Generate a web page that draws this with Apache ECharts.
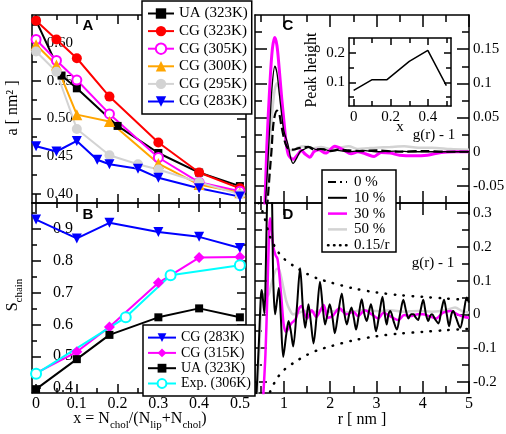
<!DOCTYPE html>
<html><head><meta charset="utf-8">
<script src="https://cdn.jsdelivr.net/npm/echarts@6/dist/echarts.min.js"></script>
<style>html,body{margin:0;padding:0;background:#fff}#c{width:506px;height:434px}</style>
</head><body><div id="c"></div>
<script>
// ---------- Panel A data ----------
const aUA_x = [0, 0.0625, 0.1, 0.2, 0.3, 0.4, 0.5];
const aUA = [0.630, 0.557, 0.540, 0.490, 0.454, 0.428, 0.410];
const aCG_x = [0, 0.05, 0.1, 0.18, 0.3, 0.4, 0.5];
const aCG323 = [0.630, 0.605, 0.580, 0.529, 0.468, 0.428, 0.407];
const aCG305 = [0.605, 0.577, 0.551, 0.506, 0.448, 0.415, 0.403];
const aCG300 = [0.598, 0.571, 0.505, 0.496, 0.440, 0.412, 0.401];
const aCG295_x = [0, 0.05, 0.1, 0.18, 0.25, 0.3, 0.4, 0.5];
const aCG295 = [0.589, 0.562, 0.486, 0.451, 0.439, 0.432, 0.415, 0.399];
const aCG283_x = [0, 0.05, 0.1, 0.15, 0.18, 0.25, 0.3, 0.4, 0.5];
const aCG283 = [0.463, 0.456, 0.470, 0.445, 0.439, 0.433, 0.421, 0.407, 0.396];
// ---------- Panel B data ----------
const bX = [0, 0.1, 0.18, 0.3, 0.4, 0.5];
const bCG283 = [0.928, 0.869, 0.918, 0.889, 0.874, 0.839];
const bCG315 = [0.447, 0.514, 0.592, 0.730, 0.809, 0.811];
const bUA = [0.397, 0.491, 0.567, 0.622, 0.650, 0.622];
const bExp_x = [0, 0.22, 0.33, 0.5];
const bExp = [0.445, 0.622, 0.754, 0.785];
// ---------- Panel C data (g(r)-1) ----------
const c0_r = [0.55,0.6,0.65,0.7,0.73,0.78,0.85,0.9,0.94,1.0,1.05,1.12,1.2,1.3,1.4,1.53,1.65,1.8,2.0,2.2,2.4,2.7,3.0,3.5,4.0,4.5,5.0];
const c0_v = [-0.14,-0.11,-0.07,-0.025,0.0,0.045,0.06,0.055,0.04,0.02,0.009,0.003,0.003,0.005,0.006,0.007,0.003,0.004,0.001,0.003,0.002,0.001,0.002,0.0,0.001,0.0,0.0];
const c10_r = [0.55,0.6,0.65,0.7,0.75,0.805,0.85,0.9,0.95,1.0,1.09,1.15,1.2,1.27,1.35,1.45,1.56,1.7,1.85,2.0,2.15,2.4,2.7,3.0,3.4,3.8,4.3,5.0];
const c10_v = [-0.12,-0.075,-0.02,0.045,0.1,0.125,0.115,0.085,0.055,0.03,0.01,-0.01,-0.017,-0.01,0.0,0.004,0.007,0.003,0.004,0.001,0.002,0.0,0.002,0.0,0.001,0.0,0.0,0.0];
const c30_r = [0.55,0.59,0.63,0.7,0.75,0.8,0.85,0.9,0.95,1.0,1.05,1.1,1.2,1.3,1.38,1.45,1.56,1.65,1.75,1.9,2.1,2.3,2.45,2.6,2.8,2.95,3.1,3.3,3.5,3.8,4.1,4.4,4.7,5.0];
const c30_v = [-0.13,-0.076,0.007,0.103,0.15,0.167,0.155,0.12,0.08,0.045,0.012,-0.005,-0.011,-0.004,0.002,-0.003,-0.008,0.0,0.003,-0.002,0.008,0.002,-0.003,0.0,-0.004,-0.007,-0.001,-0.002,-0.005,-0.006,-0.005,-0.001,0.0,0.0];
const c50_r = [0.57,0.62,0.68,0.75,0.8,0.85,0.9,0.95,1.0,1.05,1.1,1.2,1.3,1.45,1.6,1.8,2.0,2.2,2.4,2.6,2.8,3.0,3.3,3.6,3.9,4.2,4.6,5.0];
const c50_v = [-0.12,-0.075,0.0,0.06,0.09,0.1,0.09,0.065,0.035,0.012,0.003,0.002,0.006,0.008,0.005,0.007,0.004,0.006,0.008,0.004,0.005,0.006,0.007,0.008,0.006,0.006,0.004,0.003];
// ---------- Panel D data (g(r)-1) ----------
const d10_r = [0.40,0.46,0.5,0.52,0.55,0.58,0.61,0.64,0.69,0.74,0.77,0.81,0.85,0.89,0.93,0.985,1.05,1.1,1.15,1.2,1.28,1.35,1.41,1.46,1.53,1.58,1.64,1.71,1.78,1.84,1.89,1.94,1.99,2.05,2.1,2.17,2.25,2.31,2.36,2.41,2.46,2.51,2.56,2.62,2.68,2.74,2.79,2.84,2.88,2.94,2.99,3.06,3.13,3.18,3.22,3.26,3.3,3.37,3.44,3.51,3.58,3.64,3.69,3.75,3.8,3.85,3.9,3.95,4.01,4.07,4.12,4.16,4.2,4.27,4.34,4.4,4.46,4.52,4.57,4.62,4.66,4.72,4.81,4.88,4.95,5.0];
const d10_v = [-0.26,-0.08,0.05,0.072,0.04,0.002,0.15,0.36,0.55,0.36,0.1,0.0,0.04,0.078,0.0,-0.126,-0.06,-0.02,-0.05,-0.095,0.02,0.137,0.02,-0.04,0.03,-0.02,-0.086,0.0,0.097,0.02,-0.03,0.0,0.03,-0.01,-0.056,0.0,0.062,0.0,-0.03,0.0,0.02,-0.01,-0.045,0.0,0.045,0.0,-0.02,0.01,0.03,-0.01,-0.05,0.0,0.052,0.0,-0.03,0.0,0.01,-0.02,-0.045,0.0,0.043,0.01,-0.012,0.0,0.0,-0.01,-0.017,0.01,0.043,0.0,-0.02,-0.005,0.0,-0.015,-0.027,0.01,0.043,0.0,-0.035,0.0,0.01,-0.01,-0.04,0.0,0.05,0.035];
const d30_r = [0.55,0.6,0.64,0.67,0.70,0.73,0.77,0.82,0.86,0.9,0.95,1.0,1.05,1.1,1.17,1.25,1.32,1.38,1.45,1.5,1.6,1.7,1.8,1.86,1.95,2.05,2.2,2.35,2.5,2.6,2.75,2.9,3.04,3.15,3.29,3.47,3.6,3.73,3.9,4.0,4.15,4.29,4.44,4.6,4.75,4.9,5.0];
const d30_v = [-0.25,-0.12,0.05,0.2,0.285,0.26,0.2,0.175,0.165,0.12,0.04,-0.035,-0.052,-0.04,-0.025,-0.015,0.015,0.025,0.0,-0.012,0.012,-0.008,0.015,0.028,-0.01,-0.005,0.018,0.0,0.008,-0.005,0.012,0.0,-0.012,0.005,-0.005,-0.017,-0.002,-0.005,0.0,0.0,-0.006,-0.012,0.005,0.01,0.0,-0.008,-0.01];
const d50_r = [0.42,0.47,0.52,0.58,0.65,0.72,0.78,0.85,0.9,0.98,1.05,1.12,1.2,1.3,1.45,1.6,1.8,2.0,2.2,2.4,2.7,3.0,3.3,3.6,3.9,4.2,4.5,4.7,4.85,5.0];
const d50_v = [-0.24,-0.1,0.04,0.06,0.055,0.085,0.115,0.135,0.132,0.085,0.04,0.015,0.0,0.004,0.01,0.006,0.012,0.008,0.012,0.006,0.012,0.01,0.012,0.008,0.01,0.008,0.012,0.02,0.01,0.005];
const env_r = [0.45,0.55,0.7,0.85,1.0,1.25,1.5,1.75,2.0,2.5,3.0,3.5,4.0,4.5,5.0];
const envUp = [0.33,0.30,0.23,0.19,0.165,0.14,0.12,0.105,0.095,0.077,0.065,0.057,0.052,0.047,0.043];
const envDn = [-0.33,-0.30,-0.23,-0.19,-0.165,-0.14,-0.12,-0.105,-0.095,-0.077,-0.065,-0.057,-0.052,-0.047,-0.043];
// ---------- Inset data ----------
const insX = [0, 0.1, 0.18, 0.3, 0.4, 0.5];
const insPeak = [0.073, 0.109, 0.109, 0.171, 0.208, 0.089];
// ---------- Ticks ----------
const abXMajor = [0,0.1,0.2,0.3,0.4,0.5], abXMinor = [0.05,0.15,0.25,0.35,0.45];
const abXLabels = ['0','0.1','0.2','0.3','0.4','0.5'];
const aYMajor = [0.40,0.45,0.50,0.55,0.60], aYMinor = [0.425,0.475,0.525,0.575,0.625];
const aYLabels = ['0.40','0.45','0.50','0.55','0.60'];
const bYMajor = [0.4,0.5,0.6,0.7,0.8,0.9], bYMinor = [0.45,0.55,0.65,0.75,0.85,0.95];
const bYLabels = ['0.4','0.5','0.6','0.7','0.8','0.9'];
const cdXMajor = [1,2,3,4,5], cdXMinor = [0.5,1.5,2.5,3.5,4.5];
const cdXLabels = ['1','2','3','4','5'];
const cYMajor = [-0.05,0,0.05,0.1,0.15], cYMinor = [-0.025,0.025,0.075,0.125,0.175];
const cYLabels = ['-0.05','0','0.05','0.1','0.15'];
const dYMajor = [-0.2,-0.1,0,0.1,0.2,0.3], dYMinor = [-0.15,-0.05,0.05,0.15,0.25];
const dYLabels = ['-0.2','-0.1','0','0.1','0.2','0.3'];
const iXMajor = [0,0.2,0.4], iXMinor = [0.1,0.3,0.5], iXLabels = ['0','0.2','0.4'];
const iYMajor = [0.1,0.2], iYMinor = [0.05,0.15], iYLabels = ['0.1','0.2'];

const F = 'Liberation Serif';
const xAxes = [], yAxes = [];
function addAxis(dim, gi, pos, min, max, major, minor, lab, tl) {
  const base = {type:'value', gridIndex:gi, position:pos, min:min, max:max, splitLine:{show:false}, silent:true};
  const mj = Object.assign({}, base, {
    axisLine:{show:true, onZero:false, lineStyle:{color:'#000', width:1.5}},
    axisTick:{show:true, inside:true, length:tl[0], customValues:major, lineStyle:{color:'#000', width:1.5}},
    axisLabel: lab ? {show:true, customValues:major, inside:!!lab.inside, margin:lab.margin, align:lab.align,
      color:'#000', fontFamily:F, fontSize:lab.size || 15,
      formatter: function(v){ const i = major.findIndex(m => Math.abs(m - v) < 1e-9); return i < 0 ? '' : lab.labels[i]; }} : {show:false}
  });
  const mn = Object.assign({}, base, {
    axisLine:{show:false, onZero:false},
    axisTick:{show:true, inside:true, length:tl[1], customValues:minor, lineStyle:{color:'#000', width:1.5}},
    axisLabel:{show:false}
  });
  const arr = dim === 'x' ? xAxes : yAxes;
  arr.push(mj); const idx = arr.length - 1; arr.push(mn);
  return idx;
}
const grids = [
  {left:32, top:15, width:214, height:188},
  {left:32, top:203, width:214, height:190},
  {left:255, top:15, width:214, height:188},
  {left:255, top:203, width:214, height:190},
  {left:349, top:38, width:102, height:68, show:true, backgroundColor:'#fff', borderWidth:0}
];
grids.forEach(g => { g.containLabel = false; g.outerBoundsMode = 'none'; });
const ABX = [-0.01, 0.515], AY = [0.3875, 0.6375], BY = [0.385, 0.98];
const CDX = [0.375, 5], CY = [-0.075, 0.2], DY = [-0.233, 0.33], IX = [-0.025, 0.525], IY = [0.02, 0.25];
const TAB = [9, 5], TCD = [12, 7], TIN = [7, 5];
// A
const axA = addAxis('x',0,'bottom',ABX[0],ABX[1],abXMajor,abXMinor,null,TAB);
addAxis('x',0,'top',ABX[0],ABX[1],abXMajor,abXMinor,null,TAB);
const ayA = addAxis('y',0,'left',AY[0],AY[1],aYMajor,aYMinor,{labels:aYLabels, inside:true, margin:41, align:'right', size:15},TAB);
addAxis('y',0,'right',AY[0],AY[1],aYMajor,aYMinor,null,TAB);
// B
const axB = addAxis('x',1,'bottom',ABX[0],ABX[1],abXMajor,abXMinor,{labels:abXLabels, margin:3, size:16},TAB);
addAxis('x',1,'top',ABX[0],ABX[1],abXMajor,abXMinor,null,TAB);
const ayB = addAxis('y',1,'left',BY[0],BY[1],bYMajor,bYMinor,{labels:bYLabels, inside:true, margin:41, align:'right', size:16},TAB);
addAxis('y',1,'right',BY[0],BY[1],bYMajor,bYMinor,null,TAB);
// C
const axC = addAxis('x',2,'bottom',CDX[0],CDX[1],cdXMajor,cdXMinor,null,TCD);
addAxis('x',2,'top',CDX[0],CDX[1],cdXMajor,cdXMinor,null,TCD);
const ayC = addAxis('y',2,'left',CY[0],CY[1],cYMajor,cYMinor,null,TCD);
addAxis('y',2,'right',CY[0],CY[1],cYMajor,cYMinor,{labels:cYLabels, margin:4, size:15},TCD);
// D
const axD = addAxis('x',3,'bottom',CDX[0],CDX[1],cdXMajor,cdXMinor,{labels:cdXLabels, margin:3, size:16},TCD);
addAxis('x',3,'top',CDX[0],CDX[1],cdXMajor,cdXMinor,null,TCD);
const ayD = addAxis('y',3,'left',DY[0],DY[1],dYMajor,dYMinor,null,TCD);
addAxis('y',3,'right',DY[0],DY[1],dYMajor,dYMinor,{labels:dYLabels, margin:4, size:15},TCD);
// Inset
const axI = addAxis('x',4,'bottom',IX[0],IX[1],iXMajor,iXMinor,{labels:iXLabels, margin:4, size:15},TIN);
addAxis('x',4,'top',IX[0],IX[1],iXMajor,iXMinor,null,TIN);
const ayI = addAxis('y',4,'left',IY[0],IY[1],iYMajor,iYMinor,{labels:iYLabels, margin:4, size:15},TIN);
addAxis('y',4,'right',IY[0],IY[1],iYMajor,iYMinor,null,TIN);

function pts(xs, ys){ return xs.map((x,i) => [x, ys[i]]); }
function mk(name, xs, ys, xi, yi, color, symbol, size, extra) {
  const s = {type:'line', name:name, xAxisIndex:xi, yAxisIndex:yi, data:pts(xs,ys), animation:false,
    lineStyle:{color:color, width:2}, itemStyle:{color:color}, symbol:symbol, symbolSize:size, showSymbol:true};
  return Object.assign(s, extra || {});
}
const RED='#ff0000', MAG='#ff00ff', ORA='#ffa500', GRY='#d3d3d3', BLU='#0000ff', CYA='#00ffff';
const series = [
  mk('UA (323K)', aUA_x, aUA, axA, ayA, '#000', 'rect', 8),
  mk('CG (323K)', aCG_x, aCG323, axA, ayA, RED, 'circle', 10),
  mk('CG (305K)', aCG_x, aCG305, axA, ayA, MAG, 'emptyCircle', 9, {itemStyle:{color:MAG, borderWidth:2}}),
  mk('CG (300K)', aCG_x, aCG300, axA, ayA, ORA, 'triangle', 11),
  mk('CG (295K)', aCG295_x, aCG295, axA, ayA, GRY, 'circle', 10),
  mk('CG (283K)', aCG283_x, aCG283, axA, ayA, BLU, 'triangle', 10, {symbolRotate:180}),
  mk('CG (283K)', bX, bCG283, axB, ayB, BLU, 'triangle', 10, {symbolRotate:180}),
  mk('CG (315K)', bX, bCG315, axB, ayB, MAG, 'diamond', 11),
  mk('UA (323K)', bX, bUA, axB, ayB, '#000', 'rect', 8),
  mk('Exp. (306K)', bExp_x, bExp, axB, ayB, CYA, 'emptyCircle', 10, {itemStyle:{color:CYA, borderWidth:1.5}}),
  // C
  mk('C 50 %', c50_r, c50_v, axC, ayC, GRY, 'none', 0, {smooth:0.3, lineStyle:{color:GRY, width:2.5}}),
  mk('C 30 %', c30_r, c30_v, axC, ayC, MAG, 'none', 0, {smooth:0.3, lineStyle:{color:MAG, width:3}}),
  mk('C 10 %', c10_r, c10_v, axC, ayC, '#000', 'none', 0, {smooth:0.3, lineStyle:{color:'#000', width:1.3}}),
  mk('C 0 %', c0_r, c0_v, axC, ayC, '#000', 'none', 0, {smooth:0.3, lineStyle:{color:'#000', width:2.2, type:[9,4]}}),
  // D
  mk('D 50 %', d50_r, d50_v, axD, ayD, GRY, 'none', 0, {smooth:0.3, lineStyle:{color:GRY, width:2.5}}),
  mk('D 30 %', d30_r, d30_v, axD, ayD, MAG, 'none', 0, {smooth:0.3, lineStyle:{color:MAG, width:2.5}}),
  mk('D 10 %', d10_r, d10_v, axD, ayD, '#000', 'none', 0, {smooth:0.3, lineStyle:{color:'#000', width:2}}),
  mk('0.15/r up', env_r, envUp, axD, ayD, '#000', 'none', 0, {smooth:0.3, lineStyle:{color:'#000', width:2.5, type:[0.5,8.5], cap:'round'}}),
  mk('0.15/r down', env_r, envDn, axD, ayD, '#000', 'none', 0, {smooth:0.3, lineStyle:{color:'#000', width:2.5, type:[0.5,8.5], cap:'round'}}),
  // inset
  mk('Peak height', insX, insPeak, axI, ayI, '#000', 'none', 0, {lineStyle:{color:'#000', width:1.5}, z:5})
];
const legends = [
  {data:['UA (323K)','CG (323K)','CG (305K)','CG (300K)','CG (295K)','CG (283K)'], left:142, top:1, orient:'vertical',
   itemWidth:26, itemHeight:13, itemGap:2.6, padding:[5,4,5,5], borderColor:'#000', borderWidth:1.5, backgroundColor:'#fff',
   textStyle:{fontFamily:F, fontSize:15, color:'#000'}, selectedMode:false, z:10},
  {data:['CG (283K)','CG (315K)','UA (323K)','Exp. (306K)'], left:143, bottom:38, orient:'vertical',
   itemWidth:28, itemHeight:11, itemGap:1.3, padding:[5.5,4,5.5,4], borderColor:'#000', borderWidth:1.5, backgroundColor:'#fff',
   textStyle:{fontFamily:F, fontSize:14, color:'#000'}, selectedMode:false, z:10}
];
const T = (x, y, text, size, extra) => Object.assign({type:'text', x:x, y:y, z:100,
  style:{text:text, fontFamily:F, fontSize:size, fill:'#000', align:'center', verticalAlign:'middle'}}, extra || {});
const sub = {fontFamily:F, fontSize:11, lineHeight:11, verticalAlign:'bottom', fill:'#000'};
const main16 = {fontFamily:F, fontSize:16, lineHeight:24, verticalAlign:'middle', fill:'#000'};
const cLeg = [['0 %', {stroke:'#000', lineWidth:2.2, lineDash:[8,4,2,4]}],
              ['10 %', {stroke:'#000', lineWidth:2}],
              ['30 %', {stroke:MAG, lineWidth:2.5}],
              ['50 %', {stroke:GRY, lineWidth:2.5}],
              ['0.15/r', {stroke:'#000', lineWidth:2.5, lineDash:[0.5,5.5], lineCap:'round'}]];
const letter = (x, y, t) => ({type:'text', x:x, y:y, z:100, style:{text:t, font:'bold 15px "Liberation Sans"', fill:'#000', align:'center', verticalAlign:'middle'}});
const graphic = [
  letter(88, 26, 'A'), letter(88, 215, 'B'), letter(288, 26, 'C'), letter(288, 215, 'D'),
  T(13, 108, 'a [ nm² ]', 16, {rotation:Math.PI/2}),
  {type:'text', x:13, y:295, z:100, rotation:Math.PI/2, style:{text:'{m|S}{s|chain}', rich:{m:main16, s:sub}, align:'center', verticalAlign:'middle'}},
  {type:'text', x:140, y:419, z:100, style:{text:'{m|x = N}{s|chol}{m|/(N}{s|lip}{m|+N}{s|chol}{m|)}', rich:{m:main16, s:sub}, align:'center', verticalAlign:'middle'}},
  T(362, 420, 'r [ nm ]', 16),
  T(434, 135, 'g(r) - 1', 15),
  T(433, 263, 'g(r) - 1', 15),
  T(312, 70, 'Peak height', 16, {rotation:Math.PI/2}),
  T(400, 127, 'x', 15),
  {type:'rect', z:90, shape:{x:322, y:170, width:74, height:82}, style:{fill:'#fff', stroke:'#000', lineWidth:1.5}}
];
cLeg.forEach((e, i) => {
  const y = 182 + i * 15.8;
  graphic.push({type:'line', z:95, shape:{x1:328, y1:y, x2:347, y2:y}, style:e[1]});
  graphic.push({type:'text', z:95, x:354, y:y, style:{text:e[0], fontFamily:F, fontSize:15, fill:'#000', align:'left', verticalAlign:'middle'}});
});
const chart = echarts.init(document.getElementById('c'), null, {renderer:'canvas'});
chart.setOption({animation:false, backgroundColor:'#fff', grid:grids, xAxis:xAxes, yAxis:yAxes, series:series, legend:legends, graphic:graphic});
</script></body></html>
